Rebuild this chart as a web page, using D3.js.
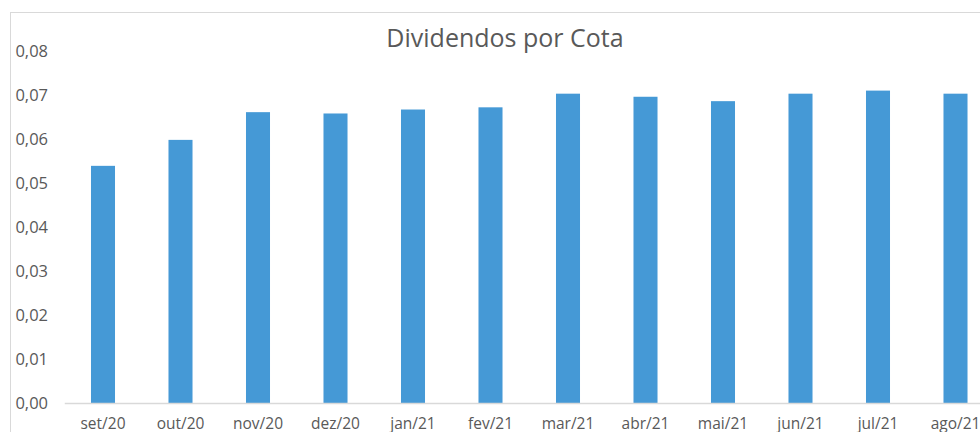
<!DOCTYPE html>
<html>
<head>
  <meta charset="utf-8">
  <script src="https://d3js.org/d3.v7.min.js"></script>
  <style>
    body { margin: 0; background: #fff; }
    text { font-family: "Open Sans", sans-serif; fill: #595959; }
  </style>
</head>
<body>
<div id="chart"></div>
<script>
    const months = ["set/20", "out/20", "nov/20", "dez/20", "jan/21", "fev/21",
                    "mar/21", "abr/21", "mai/21", "jun/21", "jul/21", "ago/21"]
    const dividends = [0.0539, 0.0598, 0.0661, 0.0658, 0.0667, 0.0672,
                       0.0703, 0.0696, 0.0686, 0.0703, 0.0710, 0.0703]
    const yTicks = [0, 0.01, 0.02, 0.03, 0.04, 0.05, 0.06, 0.07, 0.08]
    const title = "Dividendos por Cota"

    const width = 980, height = 432
    const margin = { top: 51, left: 64.25, right: -14.25, bottom: 29 }

    const svg = d3.select("#chart").append("svg")
        .attr("width", width)
        .attr("height", height)

    // chart frame (right / bottom edges run off the picture)
    svg.append("rect")
        .attr("x", 10.5).attr("y", 12.5)
        .attr("width", 1000).attr("height", 500)
        .attr("fill", "none")
        .attr("stroke", "#d9d9d9")

    const x = d3.scaleBand()
        .domain(months)
        .range([margin.left, width - margin.right])
        .paddingInner(0.69)
        .paddingOuter(0.345)

    const y = d3.scaleLinear()
        .domain([0, 0.08])
        .range([height - margin.bottom, margin.top])

    const fmt = d => d3.format(".2f")(d).replace(".", ",")

    // y axis labels, no line
    const yAxis = svg.append("g")
        .attr("transform", "translate(48,0)")
        .call(d3.axisLeft(y).tickValues(yTicks).tickFormat(fmt).tickSize(0).tickPadding(0))
    yAxis.select(".domain").remove()
    yAxis.selectAll("text")
        .attr("font-size", "16.5px")
        .attr("fill", "#595959")
        .style("font-family", "'Open Sans', sans-serif")

    svg.selectAll("rect.bar")
        .data(months)
        .enter().append("rect")
        .attr("class", "bar")
        .attr("x", d => x(d))
        .attr("width", x.bandwidth())
        .attr("y", (d, i) => y(dividends[i]))
        .attr("height", (d, i) => y(0) - y(dividends[i]))
        .attr("fill", "#4599d6")

    // x axis
    const xAxis = svg.append("g")
        .attr("transform", `translate(0,${y(0)})`)
        .call(d3.axisBottom(x).tickSize(0).tickPadding(15))
    xAxis.select(".domain")
        .attr("stroke", "#d9d9d9")
        .attr("stroke-width", 1.3)
    xAxis.selectAll("text")
        .attr("font-size", "15.5px")
        .attr("fill", "#595959")
        .style("font-family", "'Open Sans', sans-serif")

    svg.append("text")
        .attr("x", 505)
        .attr("y", 47)
        .attr("text-anchor", "middle")
        .attr("font-size", "25px")
        .text(title)
</script>
</body>
</html>
